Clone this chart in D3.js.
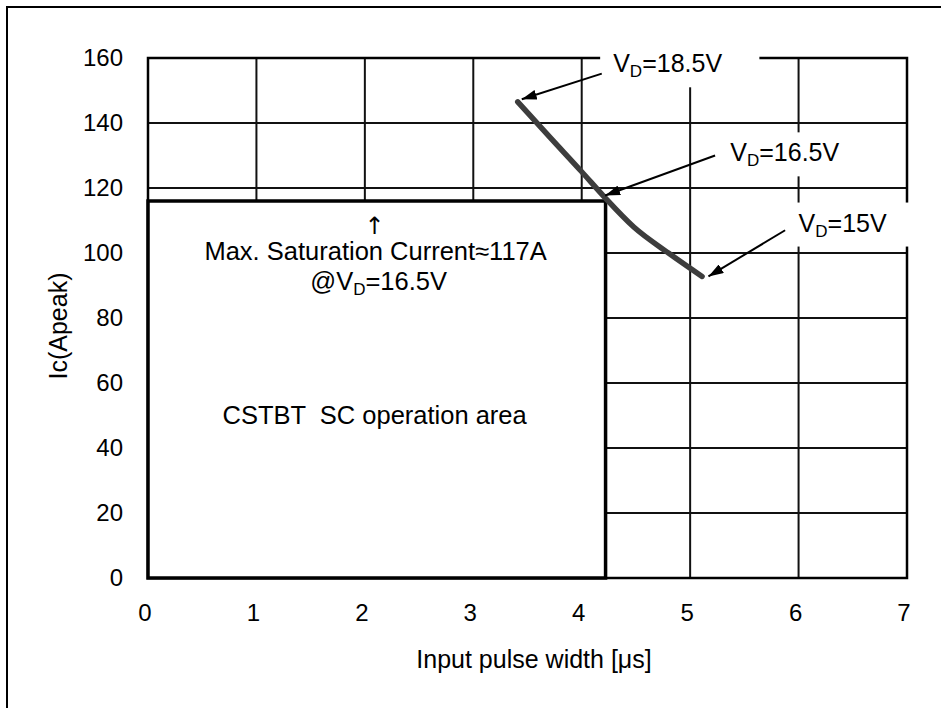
<!DOCTYPE html>
<html>
<head>
<meta charset="utf-8">
<script src="https://cdn.jsdelivr.net/npm/d3@7"></script>
<style>
  body { margin: 0; background: #fff; }
  text { font-family: "Liberation Sans", Arial, sans-serif; fill: #000; }
</style>
</head>
<body>
<svg id="chart" width="941" height="708"></svg>
<script>
// data
const xTicks = [0, 1, 2, 3, 4, 5, 6, 7];
const yTicks = [0, 20, 40, 60, 80, 100, 120, 140, 160];
const pulseWidth = [3.41, 3.71, 4.0, 4.21, 4.48, 4.8, 5.11];
const peakCurrent = [146.5, 135.5, 125, 117.2, 108, 100, 92.8];
const areaWidth = 4.22;
const areaCurrent = 116;
const vdLabels = ["18.5V", "16.5V", "15V"];
const labelX = [4.29, 5.37, 6.0];
const labelY = [155.6, 128.2, 106.6];
const arrowFromX = [4.185, 5.23, 5.876];
const arrowFromY = [155.2, 130, 107];
const arrowToX = [3.447, 4.216, 5.169];
const arrowToY = [147.3, 117.7, 92.8];

const svg = d3.select("#chart");
const margin = { top: 58, right: 34, bottom: 130, left: 148 };
const width = +svg.attr("width") - margin.left - margin.right;
const height = +svg.attr("height") - margin.top - margin.bottom;

// outer frame (runs off the right and bottom of the picture)
svg.append("rect")
    .attr("x", 7).attr("y", 7)
    .attr("width", 1000).attr("height", 1000)
    .attr("fill", "none").attr("stroke", "#000").attr("stroke-width", 2);

const g = svg.append("g")
    .attr("transform", `translate(${margin.left},${margin.top})`);

const x = d3.scaleLinear().domain([0, 7]).range([0, width]);
const y = d3.scaleLinear().domain([0, 160]).range([height, 0]);

// grid
g.append("g").selectAll("line").data(yTicks).enter().append("line")
    .attr("x1", 0).attr("x2", width)
    .attr("y1", d => y(d)).attr("y2", d => y(d))
    .attr("stroke", "#111").attr("stroke-width", 2);
g.append("g").selectAll("line").data(xTicks).enter().append("line")
    .attr("y1", 0).attr("y2", height)
    .attr("x1", d => x(d)).attr("x2", d => x(d))
    .attr("stroke", "#111").attr("stroke-width", 2);

g.append("rect")
    .attr("width", width).attr("height", height)
    .attr("fill", "none").attr("stroke", "#000").attr("stroke-width", 2.5);

// SC operation area box
g.append("rect")
    .attr("x", x(0)).attr("y", y(areaCurrent))
    .attr("width", x(areaWidth) - x(0))
    .attr("height", y(0) - y(areaCurrent))
    .attr("fill", "#fff").attr("stroke", "#000").attr("stroke-width", 3.5);

// tick labels
g.append("g").selectAll("text").data(xTicks).enter().append("text")
    .attr("x", d => x(d) - 3).attr("y", height + 43)
    .attr("text-anchor", "middle").attr("font-size", 24)
    .text(d => d);
g.append("g").selectAll("text").data(yTicks).enter().append("text")
    .attr("x", -25).attr("y", d => y(d)).attr("dy", "0.35em")
    .attr("text-anchor", "end").attr("font-size", 24)
    .text(d => d);

// axis titles
g.append("text")
    .attr("x", 386).attr("y", height + 90)
    .attr("text-anchor", "middle").attr("font-size", 25)
    .text("Input pulse width [μs]");
g.append("text")
    .attr("transform", `translate(-81,${height / 2 + 8}) rotate(-90)`)
    .attr("text-anchor", "middle").attr("font-size", 25)
    .text("Ic(Apeak)");

// curve
const line = d3.line().x(d => x(d[0])).y(d => y(d[1])).curve(d3.curveMonotoneX);
g.append("path")
    .datum(pulseWidth.map((v, i) => [v, peakCurrent[i]]))
    .attr("d", line)
    .attr("fill", "none").attr("stroke", "#3d3d3d")
    .attr("stroke-width", 5.5).attr("stroke-linecap", "round");

// texts inside the area
const cx = x(2.09);
g.append("text").attr("x", cx).attr("y", y(105.8))
    .attr("text-anchor", "middle").attr("font-size", 24)
    .style("font-family", "'DejaVu Sans', sans-serif")
    .style("fill", "#000")
    .text("↑");
g.append("text").attr("x", cx + 1).attr("y", y(97.7))
    .attr("text-anchor", "middle").attr("font-size", 25.5)
    .text("Max. Saturation Current≈117A");
const at = g.append("text").attr("x", cx + 4).attr("y", y(88.5))
    .attr("text-anchor", "middle").attr("font-size", 25.5);
at.append("tspan").text("@V");
at.append("tspan").attr("font-size", 17).attr("dy", 5).text("D");
at.append("tspan").attr("dy", -5).text("=16.5V");
g.append("text").attr("x", cx).attr("y", y(47.3))
    .attr("text-anchor", "middle").attr("font-size", 25.5)
    .attr("xml:space", "preserve")
    .text("CSTBT  SC operation area");

// V_D labels with white boxes and arrows
const padLeft = [13, 5, 10];
const padRight = [37, 3, 38];
svg.append("defs").append("marker")
    .attr("id", "head")
    .attr("markerUnits", "userSpaceOnUse")
    .attr("markerWidth", 16).attr("markerHeight", 10)
    .attr("refX", 15).attr("refY", 5)
    .attr("orient", "auto")
    .append("path").attr("d", "M0,0L15,5L0,10Z").attr("fill", "#000");

vdLabels.forEach((lab, i) => {
    const box = g.append("rect").attr("fill", "#fff");
    const t = g.append("text")
        .attr("x", x(labelX[i])).attr("y", y(labelY[i]))
        .attr("font-size", 25);
    t.append("tspan").text("V");
    t.append("tspan").attr("font-size", 17).attr("dy", 5).text("D");
    t.append("tspan").attr("dy", -5).text("=" + lab);
    const bb = t.node().getBBox();
    box.attr("x", bb.x - padLeft[i]).attr("y", bb.y - 6)
        .attr("width", bb.width + padLeft[i] + padRight[i])
        .attr("height", bb.height + 12);
    g.append("line")
        .attr("x1", x(arrowFromX[i])).attr("y1", y(arrowFromY[i]))
        .attr("x2", x(arrowToX[i])).attr("y2", y(arrowToY[i]))
        .attr("stroke", "#000").attr("stroke-width", 2)
        .attr("marker-end", "url(#head)");
});
</script>
</body>
</html>
